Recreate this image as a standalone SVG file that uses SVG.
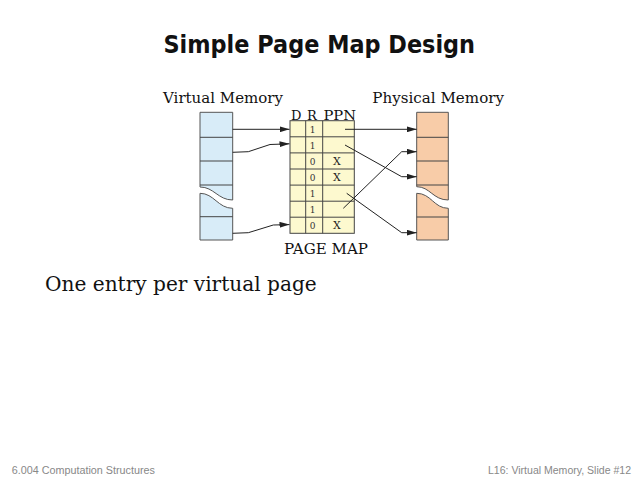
<svg xmlns="http://www.w3.org/2000/svg" width="640" height="480" viewBox="0 0 640 480">
<style>
.serif{font-family:"DejaVu Serif","Liberation Serif",serif;fill:#111}
.mem{stroke:#555;stroke-width:1}
.vm{fill:#d8ecf8}
.pm{fill:#f8cca8}
.div{stroke:#444;stroke-width:1;fill:none}
.grid{stroke:#444;stroke-width:1;fill:none}
.conn{stroke:#222;stroke-width:1;fill:none;marker-end:url(#ah)}
.bit{font-family:"DejaVu Serif","Liberation Serif",serif;font-size:9px;fill:#333;text-anchor:middle}
.x{font-family:"DejaVu Serif","Liberation Serif",serif;font-size:11px;fill:#222;text-anchor:middle}
.foot{font-family:"Liberation Sans","DejaVu Sans",sans-serif;font-size:10px;fill:#888}
</style>
<defs>
<marker id="ah" viewBox="0 0 10 6" refX="10" refY="3" markerWidth="10" markerHeight="6" markerUnits="userSpaceOnUse" orient="auto">
<path d="M0,0 L10,3 L0,6 Z" fill="#222"/>
</marker>
</defs>
<rect width="640" height="480" fill="#ffffff"/>

<g id="title">
<text x="163.5" y="53" font-family="DejaVu Sans, Liberation Sans, sans-serif" font-weight="bold" font-size="24" fill="#111" textLength="311.5" lengthAdjust="spacingAndGlyphs">Simple Page Map Design</text>
</g>

<g id="virtual-memory">
<text class="serif" x="163" y="103" font-size="14" textLength="120" lengthAdjust="spacingAndGlyphs">Virtual Memory</text>
<path class="vm mem" d="M200,112.3 H232.7 V200 C218,200 214,187 200,187 Z"/>
<path class="vm mem" d="M200,193.3 C214,193.3 218,208.3 232.7,208.3 V240 H200 Z"/>
<path class="div" d="M200,137.3 H232.7 M200,161 H232.7 M200,185 H232.7 M200,216.7 H232.7"/>
</g>

<g id="physical-memory">
<text class="serif" x="372.3" y="103" font-size="14" textLength="131.7" lengthAdjust="spacingAndGlyphs">Physical Memory</text>
<path class="pm mem" d="M416.7,112.3 H448.3 V200 C433,200 430,186.7 416.7,186.7 Z"/>
<path class="pm mem" d="M416.7,193.3 C431,193.3 434,208.3 448.3,208.3 V240 H416.7 Z"/>
<path class="div" d="M416.7,137.3 H448.3 M416.7,161 H448.3 M416.7,185 H448.3 M416.7,217 H448.3"/>
</g>

<g id="page-map">
<text class="serif" x="291" y="119.5" font-size="13">D</text>
<text class="serif" x="307" y="119.5" font-size="13">R</text>
<text class="serif" x="323.5" y="119.5" font-size="13" textLength="32.5" lengthAdjust="spacingAndGlyphs">PPN</text>
<rect x="290" y="120.7" width="64.3" height="112.6" fill="#fdf9cf" stroke="#444" stroke-width="1"/>
<path class="grid" d="M305.7,120.7 V233.3 M322.7,120.7 V233.3 M290,136.8 H354.3 M290,152.9 H354.3 M290,169 H354.3 M290,185.1 H354.3 M290,201.2 H354.3 M290,217.2 H354.3"/>
<text class="bit" x="312.5" y="132.5">1</text>
<text class="bit" x="312.5" y="148.6">1</text>
<text class="bit" x="312.5" y="164.7">0</text>
<text class="bit" x="312.5" y="180.8">0</text>
<text class="bit" x="312.5" y="196.9">1</text>
<text class="bit" x="312.5" y="213">1</text>
<text class="bit" x="312.5" y="229.1">0</text>
<text class="x" x="337" y="165">X</text>
<text class="x" x="337" y="181">X</text>
<text class="x" x="337" y="229.3">X</text>
<text class="serif" x="284" y="254" font-size="14" textLength="84" lengthAdjust="spacingAndGlyphs">PAGE MAP</text>
</g>

<g id="connectors">
<path class="conn" d="M232.7,129.3 H289.5"/>
<path class="conn" d="M232.7,152.3 L248.3,151.7 L270,144.5 L289.5,143.8"/>
<path class="conn" d="M232.7,233.3 L248.3,232.7 L273.3,225 L289.5,224.6"/>
<path class="conn" d="M345,129.3 H416.7"/>
<path class="conn" d="M345,145 L401.7,176.7 H416.7"/>
<path class="conn" d="M346.7,193.3 L401.7,232.7 H416.7"/>
<path class="conn" d="M343.3,208.3 L401.7,151.7 H416.7"/>
</g>

<g id="body">
<text class="serif" x="45" y="291" font-size="20" textLength="271.7" lengthAdjust="spacingAndGlyphs">One entry per virtual page</text>
</g>

<g id="footer">
<text class="foot" x="11.7" y="473.5" textLength="143.3" lengthAdjust="spacingAndGlyphs">6.004 Computation Structures</text>
<text class="foot" x="488" y="473.5" textLength="143" lengthAdjust="spacingAndGlyphs">L16: Virtual Memory, Slide #12</text>
</g>
</svg>
